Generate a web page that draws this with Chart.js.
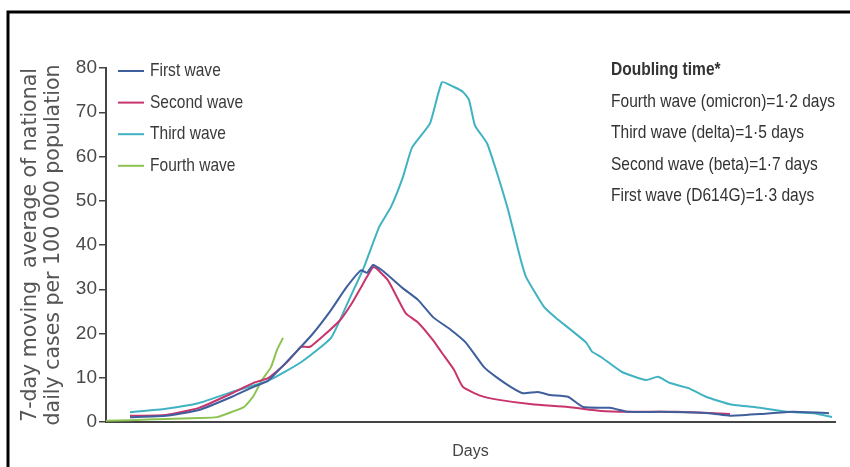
<!DOCTYPE html>
<html>
<head>
<meta charset="utf-8">
<script src="https://cdn.jsdelivr.net/npm/chart.js@4"></script>
<style>
  html, body { margin: 0; padding: 0; background: #fff; }
  #wrap { width: 850px; height: 467px; position: relative; }
</style>
</head>
<body>
<div id="wrap"><canvas id="waves" width="850" height="467"></canvas></div>
<script>
// Days since start of each wave, and 7-day average cases per 100 000
const firstDays = [8, 20, 31, 42, 49, 54, 64, 69, 75, 80, 85, 87, 89, 92, 96, 99, 104, 109, 115, 120, 126, 130, 135, 139, 144, 148, 154, 159, 168, 174, 185, 201, 208, 218, 229, 241];
const firstCases = [1.1, 1.4, 2.7, 5.7, 7.9, 9.3, 16.3, 20, 25.3, 30.3, 34.3, 33.7, 35.5, 34.3, 32, 30.2, 27.6, 23.7, 20.8, 17.9, 12.4, 10.2, 7.9, 6.5, 6.8, 6.1, 5.7, 3.4, 3.2, 2.3, 2.3, 2, 1.4, 1.8, 2.3, 2];

const secondDays = [8, 20, 31, 42, 49, 54, 60, 64, 65, 68, 72, 78, 82, 87, 89, 90, 94, 97, 100, 104, 109, 112, 116, 119, 125, 131, 142, 154, 165, 174, 190, 208];
const secondCases = [1.4, 1.6, 3.2, 6.5, 8.8, 9.9, 13.3, 16.3, 17, 17, 19.2, 23, 26.9, 32.8, 35, 34.8, 32, 28.2, 24.5, 22.5, 18.5, 15.6, 11.8, 7.9, 5.9, 5, 4, 3.4, 2.5, 2.3, 2.3, 1.8];

const thirdDays = [8, 20, 31, 42, 54, 65, 75, 81, 86, 91, 95, 99, 102, 108, 112, 116, 119, 121, 123, 127, 130, 134, 138, 140, 146, 150, 155, 160, 162, 165, 172, 180, 184, 188, 194, 200, 208, 218, 227, 236, 242];
const thirdCases = [2.2, 3, 4.3, 6.8, 9.3, 13.5, 19, 27.6, 35, 44, 48.6, 55.4, 62, 67.5, 76.8, 75.7, 74.6, 72.8, 67, 63, 57, 48, 37.3, 32.8, 26, 23.5, 20.8, 18, 15.9, 14.7, 11.3, 9.5, 10.2, 8.8, 7.7, 5.7, 4, 3.2, 2.3, 2, 1.1];

const fourthDays = [0, 8, 20, 31, 37, 42, 46, 49, 52, 55, 57, 59];
const fourthCases = [0.3, 0.4, 0.7, 0.9, 1.1, 2.3, 3.4, 5.7, 9.5, 12.4, 16.3, 19];

const waveLabels = ["First wave", "Second wave", "Third wave", "Fourth wave"];
const waveColors = ["#3f5f9c", "#c8346c", "#40b2c2", "#8cc251"];
const doublingTitle = "Doubling time*";
const doublingLines = [
  "Fourth wave (omicron)=1·2 days",
  "Third wave (delta)=1·5 days",
  "Second wave (beta)=1·7 days",
  "First wave (D614G)=1·3 days"
];

const sans = "'Liberation Sans', Arial, sans-serif";

const toPoints = (days, cases) => days.map((d, i) => ({ x: d, y: cases[i] }));
const series = [
  toPoints(firstDays, firstCases),
  toPoints(secondDays, secondCases),
  toPoints(thirdDays, thirdCases),
  toPoints(fourthDays, fourthCases)
];

// squeezed text, the original uses a condensed face
function narrowText(ctx, text, x, y, squeeze) {
  ctx.save();
  ctx.translate(x, y);
  ctx.scale(squeeze, 1);
  ctx.fillText(text, 0, 0);
  ctx.restore();
}

// frame, legend and doubling-time note
const extras = {
  id: "extras",
  afterDraw(chart) {
    const ctx = chart.ctx;
    ctx.save();
    ctx.strokeStyle = "#000";
    ctx.lineWidth = 3;
    ctx.beginPath();
    ctx.moveTo(8, 467);
    ctx.lineTo(8, 12);
    ctx.lineTo(850, 12);
    ctx.stroke();

    ctx.font = "19px " + sans;
    ctx.textBaseline = "middle";
    const squeeze = 224 / ctx.measureText(doublingLines[0]).width;

    chart.data.datasets.forEach((ds, i) => {
      const y = 71 + i * 31.6;
      ctx.strokeStyle = ds.borderColor;
      ctx.lineWidth = 2;
      ctx.beginPath();
      ctx.moveTo(118, y);
      ctx.lineTo(144, y);
      ctx.stroke();
      ctx.fillStyle = "#3a3a3a";
      narrowText(ctx, ds.label, 150, y, squeeze);
    });

    ctx.fillStyle = "#333";
    doublingLines.forEach((t, i) => narrowText(ctx, t, 611, 102 + i * 31.2, squeeze));
    ctx.font = "bold 19px " + sans;
    narrowText(ctx, doublingTitle, 611, 70, squeeze);
    ctx.restore();
  }
};

new Chart(document.getElementById("waves"), {
  type: "line",
  data: {
    datasets: series.map((pts, i) => ({
      label: waveLabels[i],
      data: pts,
      borderColor: waveColors[i],
      borderWidth: 2,
      pointRadius: 0,
      tension: 0.15,
      fill: false
    }))
  },
  options: {
    responsive: false,
    animation: false,
    layout: { padding: { top: 68, right: 15, left: 0, bottom: 0 } },
    plugins: { legend: { display: false }, tooltip: { enabled: false } },
    scales: {
      x: {
        type: "linear",
        min: 0,
        max: 243,
        grid: { display: false },
        border: { color: "#444", width: 2 },
        ticks: { display: false },
        title: {
          display: true,
          text: "Days",
          color: "#444",
          font: { family: sans, size: 16 },
          padding: { top: 0, bottom: 6 }
        },
        afterFit(scale) { scale.height = 45; }
      },
      y: {
        min: 0,
        max: 80,
        ticks: {
          stepSize: 10,
          color: "#4a4a4a",
          padding: 2,
          font: { family: sans, size: 19 }
        },
        grid: {
          drawOnChartArea: false,
          drawTicks: true,
          tickLength: 7,
          color: "#444",
          lineWidth: 1.5
        },
        border: { color: "#444", width: 2 },
        title: {
          display: true,
          text: ["7-day moving  average of national", "daily cases per 100 000 population"],
          color: "#555",
          font: { family: "'DejaVu Sans', sans-serif", size: 20.5, lineHeight: 1.12 },
          padding: { top: 19, bottom: 0 }
        },
        afterFit(scale) { scale.width = 106; }
      }
    }
  },
  plugins: [extras]
});
</script>
</body>
</html>
